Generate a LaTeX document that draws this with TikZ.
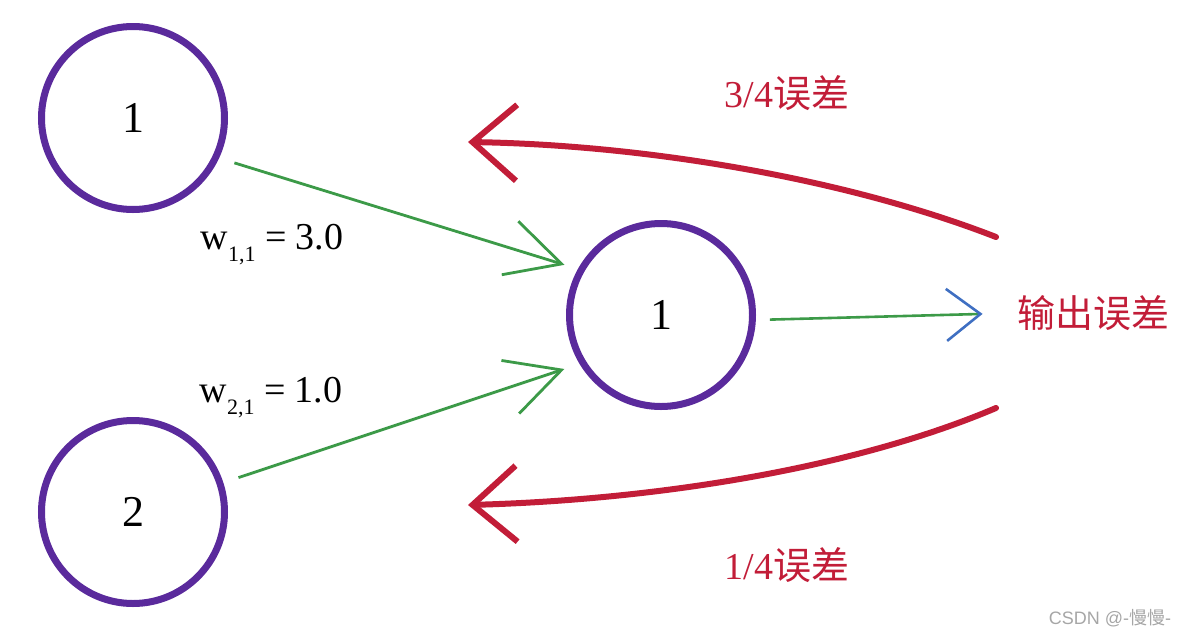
\documentclass[tikz,border=0pt]{standalone}
\usepackage{fontspec}
\setmainfont{Liberation Serif}
\setsansfont{Liberation Sans}
\newfontfamily\cjk{Noto Sans CJK SC}
\usetikzlibrary{arrows.meta}
\definecolor{nodepurple}{HTML}{5A2A9C}
\definecolor{wgreen}{HTML}{3C9A48}
\definecolor{errred}{HTML}{C21D38}
\definecolor{tipblue}{HTML}{3F6FC2}

\begin{document}
\begin{tikzpicture}[x=0.5pt,y=-0.5pt,
neuron/.style={circle,draw=nodepurple,line width=3.5pt,minimum size=91.5pt,inner sep=0pt,font=\fontsize{22}{22}\selectfont},
weight/.style={draw=wgreen,line width=1.4pt,-{Straight Barb[length=27pt,width=28pt]}},
outarrow/.style={draw=wgreen,line width=1.3pt,-{Straight Barb[length=17pt,width=26pt,color=tipblue]}},
backprop/.style={draw=errred,line width=3pt,line cap=round,-{Straight Barb[length=22pt,width=38pt]}},
errlabel/.style={text=errred,font=\fontsize{19}{19}\selectfont,inner sep=0pt},
wlabel/.style={font=\fontsize{19}{19}\selectfont,inner sep=0pt}]
\useasboundingbox (0,0) rectangle (1200,638);
\node[neuron] (in1) at (133,118) {1};
\node[neuron] (in2) at (133,512) {2};
\node[neuron] (hid) at (661,315) {1};
\node[wlabel] (w11) at (272,245) {w\raisebox{-6pt}{\fontsize{11}{11}\selectfont 1,1} = 3.0};
\node[wlabel] (w21) at (271,398) {w\raisebox{-6pt}{\fontsize{11}{11}\selectfont 2,1} = 1.0};
\node[errlabel] (e) at (1093,313) {\cjk 输出误差};
\node[errlabel] (q3) at (787,93) {3/4{\cjk 误差}};
\node[errlabel] (q1) at (787,565) {1/4{\cjk 误差}};
\node[text=gray!70,font=\sffamily\fontsize{9}{9}\selectfont] (mark) at (1110,618) {CSDN @-{\cjk 慢慢}-};
\coordinate (s1) at (996,237);
\coordinate (t1) at (468,142);
\coordinate (s2) at (996,408);
\coordinate (t2) at (468,505);
\draw[weight,shorten <=8pt,shorten >=7pt] (in1.-25) -- (hid.151);
\draw[weight,shorten <=8pt,shorten >=8pt] (in2.18) -- (hid.211);
\draw[outarrow,shorten <=7pt,shorten >=17pt] (hid.-3) -- (e.west);
\draw[backprop] (s1) .. controls (850,180) and (650,145) .. (t1);
\draw[backprop] (s2) .. controls (850,470) and (650,500) .. (t2);
\end{tikzpicture}
\end{document}
